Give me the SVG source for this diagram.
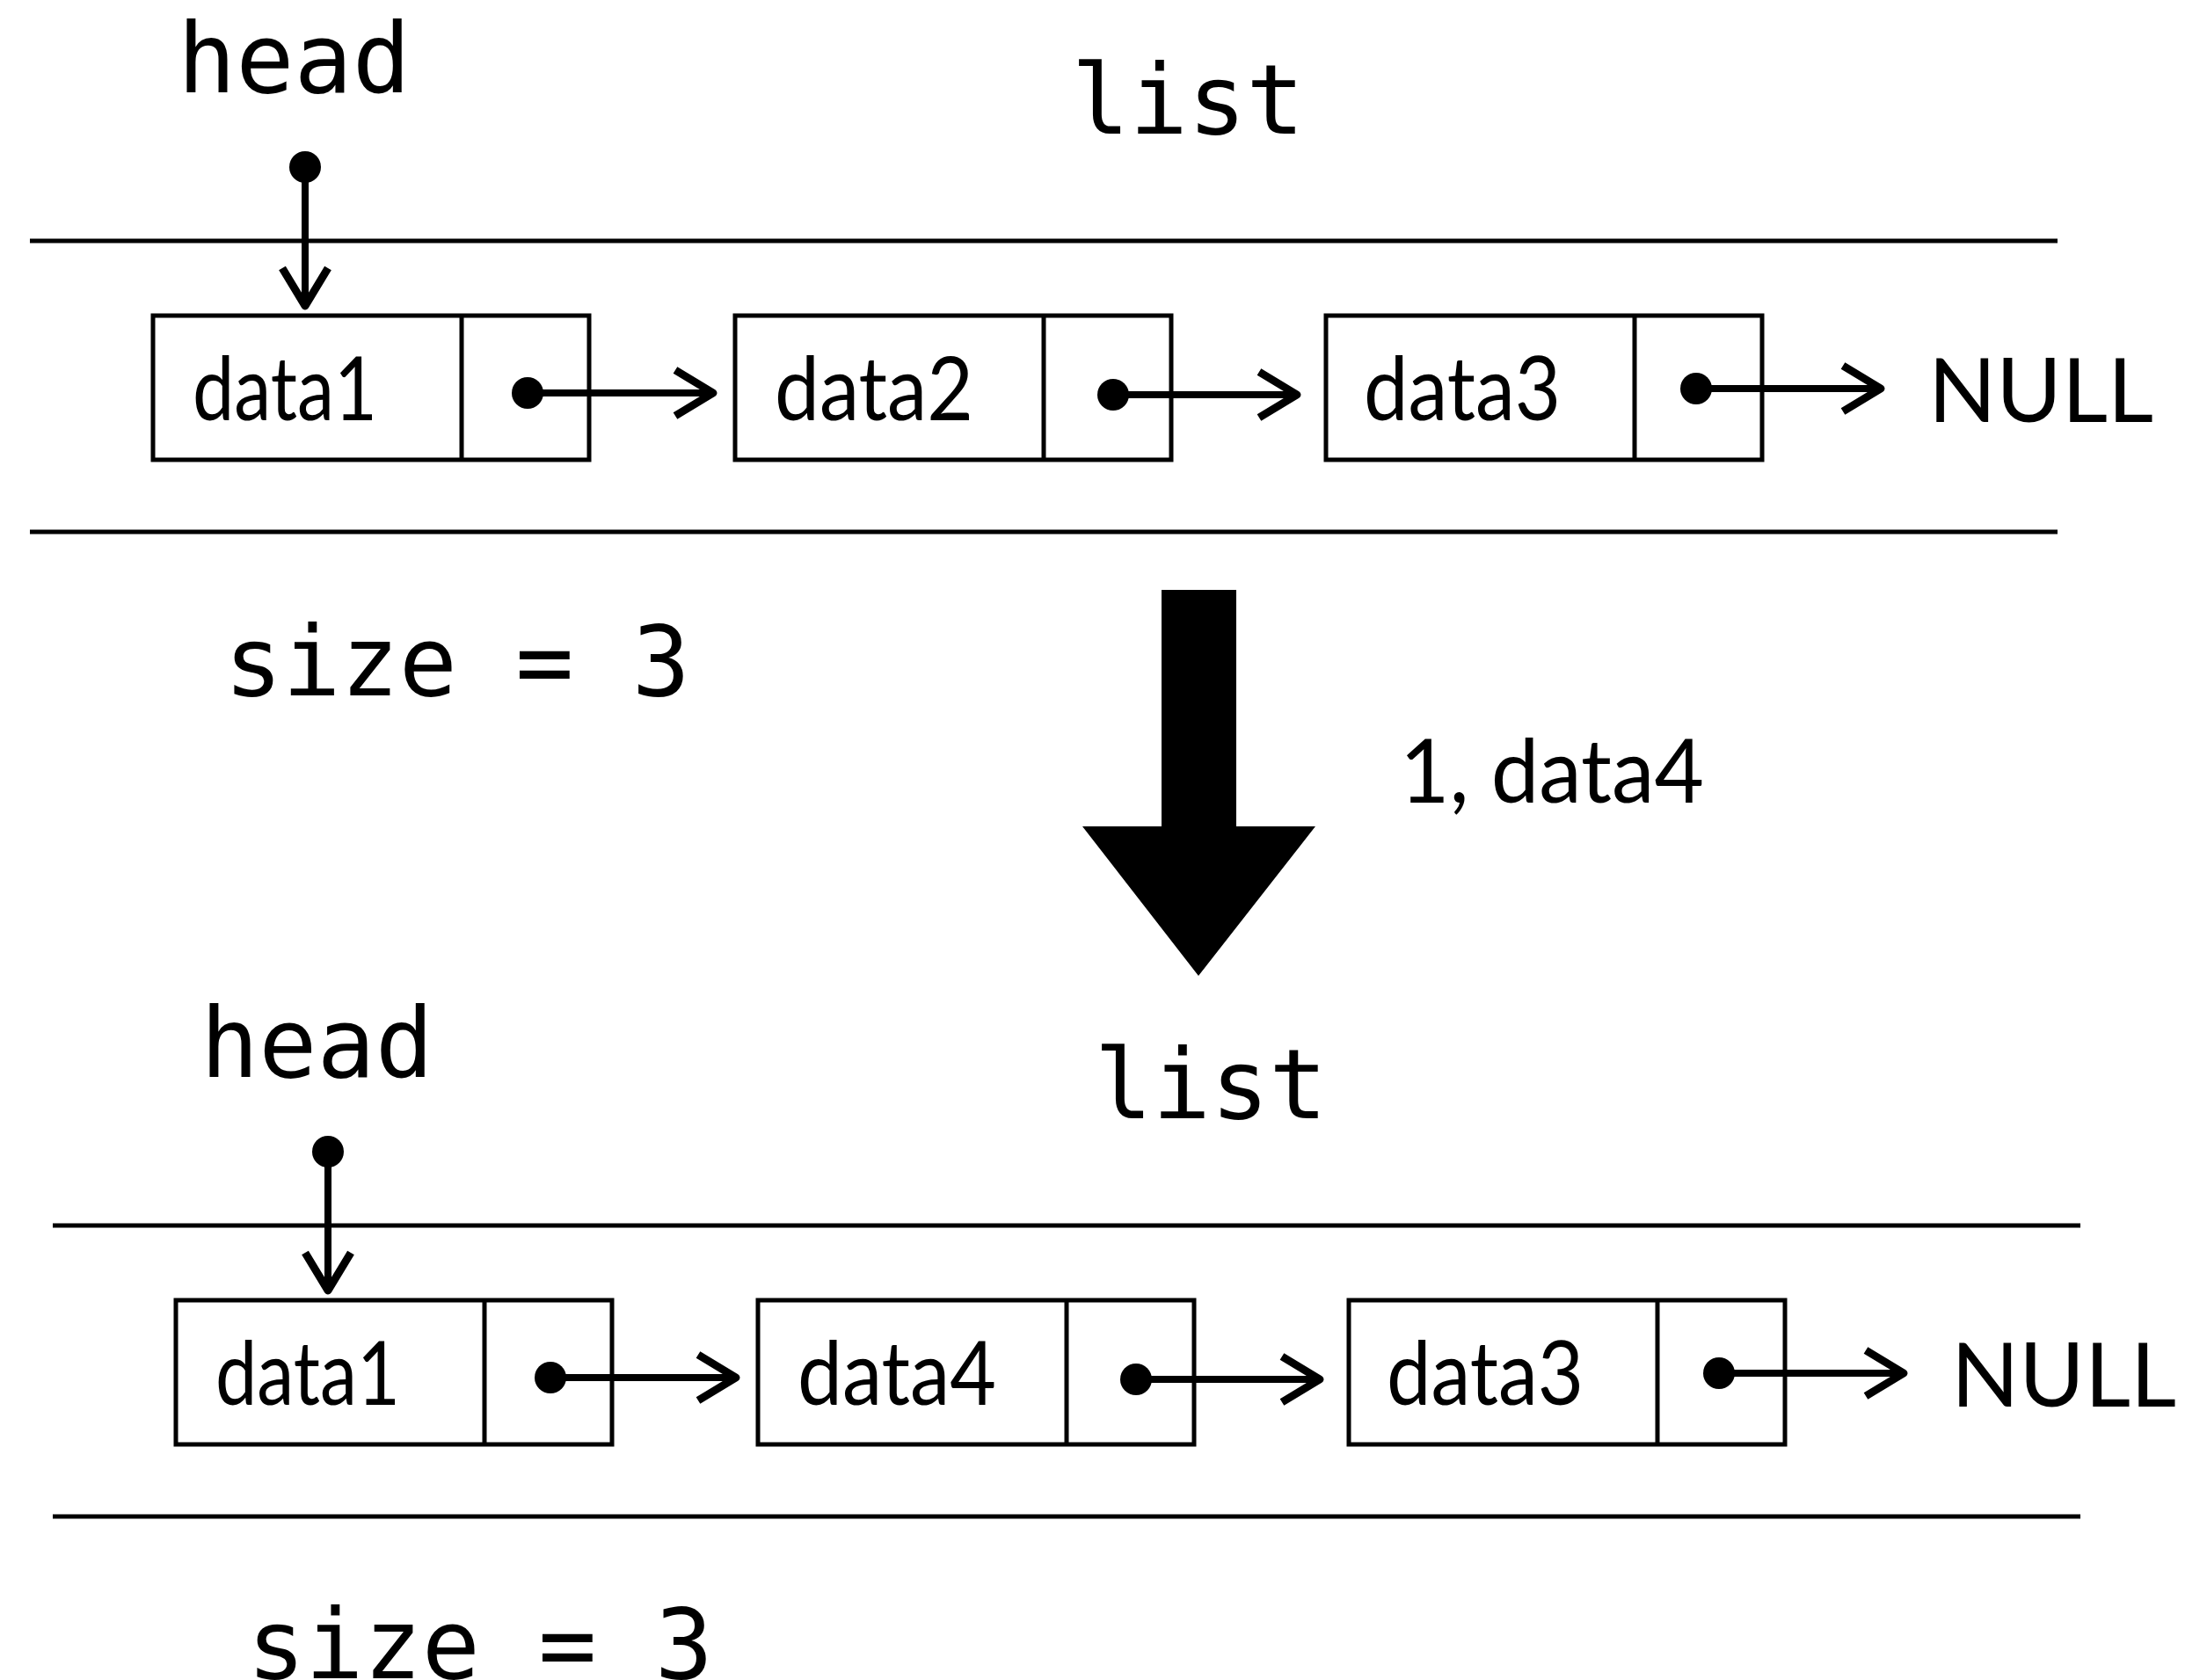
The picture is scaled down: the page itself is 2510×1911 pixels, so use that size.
<svg xmlns="http://www.w3.org/2000/svg" width="2510" height="1911" viewBox="0 0 2510 1911">
<style>
.bg{fill:#fff}
.mono{font-family:"DejaVu Sans Mono","Liberation Mono",monospace;font-size:110px;fill:#000}
.gill{font-family:Lato,"Open Sans","Liberation Sans",sans-serif;font-size:100px;fill:#000}
.rule{stroke:#000;stroke-width:5;fill:none}
.box{stroke:#000;stroke-width:5;fill:none}
.conn{stroke:#000;stroke-width:8;fill:none;marker-start:url(#dot);marker-end:url(#arr)}
.big{fill:#000}
</style>
<defs>
<marker id="arr" markerUnits="userSpaceOnUse" viewBox="-50 -35 60 70" refX="0" refY="0" markerWidth="60" markerHeight="70" orient="auto">
<polyline points="-43,-26 0,0 -43,26" fill="none" stroke="#000" stroke-width="9" stroke-linejoin="round"/>
</marker>
<marker id="dot" markerUnits="userSpaceOnUse" viewBox="-20 -20 40 40" refX="0" refY="0" markerWidth="40" markerHeight="40" orient="auto">
<circle cx="0" cy="0" r="18" fill="#000"/>
</marker>
</defs>
<rect class="bg" x="0" y="0" width="2510" height="1911"/>

<!-- top state -->
<g id="top-labels">
<text class="mono" x="202" y="105">head</text>
<text class="mono" x="1351" y="152" text-anchor="middle">list</text>
<text class="mono" x="520" y="791" text-anchor="middle">size = 3</text>
</g>
<g id="top-rules">
<line class="rule" x1="34" y1="274" x2="2340" y2="274"/>
<line class="rule" x1="34" y1="605" x2="2340" y2="605"/>
</g>
<g id="top-node1">
<rect class="box" x="174" y="359" width="496" height="164"/>
<line class="box" x1="525" y1="359" x2="525" y2="523"/>
<text class="gill" x="219" y="478" textLength="210" lengthAdjust="spacingAndGlyphs">data1</text>
</g>
<g id="top-node2">
<rect class="box" x="836" y="359" width="496" height="164"/>
<line class="box" x1="1187" y1="359" x2="1187" y2="523"/>
<text class="gill" x="881" y="478" textLength="226" lengthAdjust="spacingAndGlyphs">data2</text>
</g>
<g id="top-node3">
<rect class="box" x="1508" y="359" width="496" height="164"/>
<line class="box" x1="1859" y1="359" x2="1859" y2="523"/>
<text class="gill" x="1551" y="478" textLength="224" lengthAdjust="spacingAndGlyphs">data3</text>
</g>
<g id="top-null">
<text class="gill" x="2193" y="480" textLength="256" lengthAdjust="spacingAndGlyphs">NULL</text>
</g>

<!-- transition -->
<g id="transition">
<polygon class="big" points="1321,671 1406,671 1406,940 1496,940 1363,1110 1231,940 1321,940"/>
<text class="gill" x="1592" y="913" textLength="346" lengthAdjust="spacingAndGlyphs">1, data4</text>
</g>

<!-- bottom state -->
<g id="bottom-labels">
<text class="mono" x="228" y="1225">head</text>
<text class="mono" x="1377" y="1272" text-anchor="middle">list</text>
<text class="mono" x="546" y="1909" text-anchor="middle">size = 3</text>
</g>
<g id="bottom-rules">
<line class="rule" x1="60" y1="1394" x2="2366" y2="1394"/>
<line class="rule" x1="60" y1="1725" x2="2366" y2="1725"/>
</g>
<g id="bottom-node1">
<rect class="box" x="200" y="1479" width="496" height="164"/>
<line class="box" x1="551" y1="1479" x2="551" y2="1643"/>
<text class="gill" x="245" y="1598" textLength="210" lengthAdjust="spacingAndGlyphs">data1</text>
</g>
<g id="bottom-node2">
<rect class="box" x="862" y="1479" width="496" height="164"/>
<line class="box" x1="1213" y1="1479" x2="1213" y2="1643"/>
<text class="gill" x="907" y="1598" textLength="226" lengthAdjust="spacingAndGlyphs">data4</text>
</g>
<g id="bottom-node3">
<rect class="box" x="1534" y="1479" width="496" height="164"/>
<line class="box" x1="1885" y1="1479" x2="1885" y2="1643"/>
<text class="gill" x="1577" y="1598" textLength="224" lengthAdjust="spacingAndGlyphs">data3</text>
</g>
<g id="bottom-null">
<text class="gill" x="2219" y="1600" textLength="256" lengthAdjust="spacingAndGlyphs">NULL</text>
</g>

<g id="connectors">
<path class="conn" d="M347,190 V348"/>
<path class="conn" d="M600,447 H811"/>
<path class="conn" d="M1266,449 H1475"/>
<path class="conn" d="M1929,442 H2139"/>
<path class="conn" d="M373,1310 V1468"/>
<path class="conn" d="M626,1567 H837"/>
<path class="conn" d="M1292,1569 H1501"/>
<path class="conn" d="M1955,1562 H2165"/>
</g>
</svg>
